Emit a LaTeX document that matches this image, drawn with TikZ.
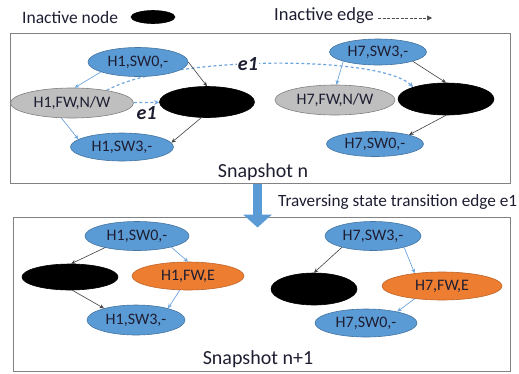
\documentclass[tikz,border=0pt]{standalone}
\usepackage{fontspec}
\setmainfont{Carlito}
\usetikzlibrary{shapes,arrows.meta,backgrounds}

\definecolor{swblue}{RGB}{91,155,213}
\definecolor{fworange}{RGB}{237,125,49}
\definecolor{fwgray}{RGB}{191,191,191}
\definecolor{edgeblue}{RGB}{110,165,222}
\definecolor{framegray}{RGB}{130,130,130}
\definecolor{ink}{RGB}{30,30,50}

\begin{document}
\begin{tikzpicture}[x=1pt,y=-1pt]
\tikzstyle{snode}=[ellipse,inner sep=0pt,line width=0.6pt,text=ink,font=\fontsize{16}{18}\selectfont]
\tikzstyle{sw}=[snode,fill=swblue,draw=swblue!75!black]
\tikzstyle{fwnw}=[snode,fill=fwgray,draw=gray]
\tikzstyle{fwe}=[snode,fill=fworange,draw=fworange!80!black]
\tikzstyle{inactive}=[snode,fill=black,draw=black]
\tikzstyle{panel}=[rectangle,draw=framegray,line width=1pt,inner sep=0pt]
\tikzstyle{caption}=[text=ink,inner sep=0pt,font=\fontsize{17.5}{19}\selectfont]
\tikzstyle{snaptitle}=[caption,font=\fontsize{20}{22}\selectfont]
\tikzstyle{elabel}=[text=ink,inner sep=1pt,font=\fontsize{20}{22}\selectfont\bfseries\itshape]
\tikzstyle{live}=[-{Stealth[length=4.5pt,width=4pt]},edgeblue,line width=0.7pt]
\tikzstyle{dead}=[-{Stealth[length=4.5pt,width=4pt]},black!75,line width=0.6pt]
\tikzstyle{jump}=[-{Stealth[length=5pt,width=4.5pt]},edgeblue,line width=1.2pt,dash pattern=on 3pt off 2.5pt]

\useasboundingbox (0,0) rectangle (519,373);

% legend
\node[caption,anchor=west] (nodekey) at (22,17) {Inactive node};
\node[inactive,minimum width=44pt,minimum height=13pt] (nodemark) at (153,17) {};
\node[caption,anchor=west,font=\fontsize{18.5}{20}\selectfont] (edgekey) at (274,16) {Inactive edge};
\coordinate (edgetip) at (432,18);
\draw[-{Triangle[length=5pt,width=5pt]},black!70,line width=0.6pt,dash pattern=on 3pt off 1.5pt] ([xshift=4pt,yshift=-2pt]edgekey.east) -- (edgetip);

% snapshot n
\node[panel,minimum width=500pt,minimum height=150pt] (snapA) at (260,108) {};
\node[sw,minimum width=100pt,minimum height=29pt] (a1sw0) at (138,62) {H1,SW0,-};
\node[fwnw,minimum width=123pt,minimum height=30pt] (a1fw) at (72,103) {H1,FW,N/W};
\node[inactive,minimum width=95pt,minimum height=31pt] (a1off) at (207,102) {};
\node[sw,minimum width=103pt,minimum height=28pt] (a1sw3) at (122,147) {H1,SW3,-};
\node[sw,minimum width=97pt,minimum height=26pt] (a7sw3) at (378,52) {H7,SW3,-};
\node[fwnw,minimum width=120pt,minimum height=30pt] (a7fw) at (335,100) {H7,FW,N/W};
\node[inactive,minimum width=96pt,minimum height=32pt] (a7off) at (446,99) {};
\node[sw,minimum width=97pt,minimum height=25pt] (a7sw0) at (375,144) {H7,SW0,-};
\node[snaptitle] (capA) at (263,172) {Snapshot n};

\begin{pgfonlayer}{background}
\draw[jump] (a1fw.20) .. controls (170,55) and (380,55) .. (a7off.160)
  node[elabel,fill=white,pos=0.44] (e1top) {e1};
\end{pgfonlayer}
\draw[jump] (a1fw) -- (a1off) node[elabel,midway,below=2pt] (e1low) {e1};
\draw[live] (a1sw0.195) -- (a1fw.80);
\draw[live] (a1fw.235) -- (a1sw3.170);
\draw[dead] (a1sw0.east) -- (a1off.north);
\draw[dead] (a1off.250) -- (a1sw3.5);
\draw[live] (a7sw3.195) -- (a7fw.85);
\draw[dead] (a7sw3.-15) -- (a7off.north);
\draw[dead] (a7off.south) -- (a7sw0.15);

% transition
\node[panel,minimum width=497pt,minimum height=154pt] (snapB) at (261.5,294) {};
\draw[-{Triangle[width=28pt,length=13pt]},swblue,line width=9pt] ([xshift=-2.5pt]snapA.south) -- ([xshift=-4pt,yshift=-11pt]snapB.north);
\node[caption,anchor=west,font=\fontsize{17.2}{19}\selectfont] (step) at (278,202) {Traversing state transition edge e1};

% snapshot n+1
\node[sw,minimum width=104pt,minimum height=29pt] (b1sw0) at (137,236) {H1,SW0,-};
\node[inactive,minimum width=96pt,minimum height=26pt] (b1off) at (70,277) {};
\node[fwe,minimum width=112pt,minimum height=28pt] (b1fw) at (188,276) {H1,FW,E};
\node[sw,minimum width=98pt,minimum height=30pt] (b1sw3) at (136,320) {H1,SW3,-};
\node[sw,minimum width=96pt,minimum height=29pt] (b7sw3) at (373,236) {H7,SW3,-};
\node[inactive,minimum width=86pt,minimum height=32pt] (b7off) at (314,289) {};
\node[fwe,minimum width=120pt,minimum height=28pt] (b7fw) at (442,286) {H7,FW,E};
\node[sw,minimum width=102pt,minimum height=28pt] (b7sw0) at (366,323) {H7,SW0,-};
\node[snaptitle] (capB) at (258,359) {Snapshot n+1};

\draw[dead] (b1sw0.200) -- (b1off.85);
\draw[live] (b1sw0.-18) -- (b1fw.north);
\draw[dead] (b1off.-80) -- (b1sw3.160);
\draw[live] (b1fw.240) -- (b1sw3.20);
\draw[dead] (b7sw3.200) -- (b7off.north);
\draw[live] (b7sw3.-20) -- (b7fw.155);
\draw[live] (b7fw.205) -- (b7sw0.20);
\end{tikzpicture}
\end{document}
